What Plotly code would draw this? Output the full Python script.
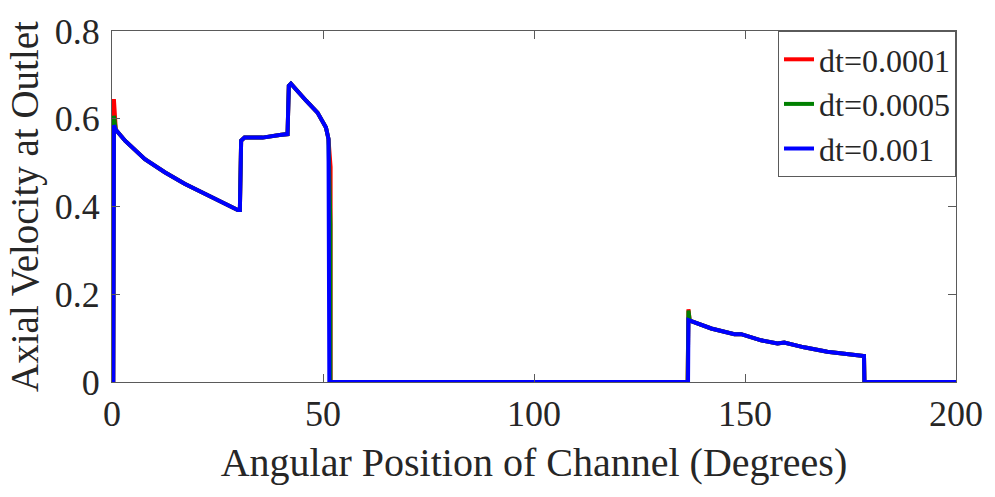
import plotly.graph_objects as go

# Axial velocity at the channel outlet versus angular position, for three time steps
x_dt0001 = [0, 0.3, 0.45, 0.9, 3.1, 7.8, 12.5, 17.2, 22.0, 26.7, 29.8, 30.3, 30.6, 31.4,
            35.7, 39.7, 41.6, 41.9, 42.4, 46.0, 48.7, 50.7, 51.3, 51.8, 51.8, 52.2,
            60, 100, 136.3, 136.4, 136.6, 136.9, 142.0, 147.5, 149.1, 153.8, 157.7,
            159.3, 164.0, 169.5, 176.6, 178.2, 178.3, 180, 200]
y_dt0001 = [0, 0.0, 0.645, 0.575, 0.550, 0.508, 0.478, 0.452, 0.429, 0.406, 0.392, 0.392, 0.550, 0.557,
            0.557, 0.563, 0.565, 0.675, 0.680, 0.641, 0.614, 0.580, 0.554, 0.49, 0.0, 0.0,
            0.0, 0.0, 0.0, 0.0, 0.166, 0.140, 0.122, 0.109, 0.109, 0.095, 0.088,
            0.090, 0.079, 0.069, 0.061, 0.059, 0.0, 0.0, 0.0]

x_dt0005 = [0, 0.3, 0.45, 0.9, 3.1, 7.8, 12.5, 17.2, 22.0, 26.7, 29.8, 30.3, 30.6, 31.4,
            35.7, 39.7, 41.6, 41.9, 42.4, 46.0, 48.7, 50.7, 51.3, 51.75, 51.75, 52.2,
            60, 100, 136.3, 136.4, 136.6, 136.9, 142.0, 147.5, 149.1, 153.8, 157.7,
            159.3, 164.0, 169.5, 176.6, 178.2, 178.3, 180, 200]
y_dt0005 = [0, 0.0, 0.607, 0.575, 0.550, 0.508, 0.478, 0.452, 0.429, 0.406, 0.392, 0.392, 0.550, 0.557,
            0.557, 0.563, 0.565, 0.675, 0.680, 0.641, 0.614, 0.580, 0.554, 0.36, 0.0, 0.0,
            0.0, 0.0, 0.0, 0.0, 0.163, 0.140, 0.122, 0.109, 0.109, 0.095, 0.088,
            0.090, 0.079, 0.069, 0.061, 0.059, 0.0, 0.0, 0.0]

x_dt001 = [0, 0.3, 0.45, 0.9, 3.1, 7.8, 12.5, 17.2, 22.0, 26.7, 29.8, 30.3, 30.6, 31.4,
           35.7, 39.7, 41.6, 41.9, 42.4, 46.0, 48.7, 50.7, 51.3, 51.5, 52.0,
           60, 100, 136.3, 136.5, 136.6, 136.9, 142.0, 147.5, 149.1, 153.8, 157.7,
           159.3, 164.0, 169.5, 176.6, 178.2, 178.3, 180, 200]
y_dt001 = [0, 0.0, 0.585, 0.575, 0.550, 0.508, 0.478, 0.452, 0.429, 0.406, 0.392, 0.392, 0.550, 0.557,
           0.557, 0.563, 0.565, 0.675, 0.680, 0.641, 0.614, 0.580, 0.554, 0.0, 0.0,
           0.0, 0.0, 0.0, 0.0, 0.141, 0.140, 0.122, 0.109, 0.109, 0.095, 0.088,
           0.090, 0.079, 0.069, 0.061, 0.059, 0.0, 0.0, 0.0]

x_ticks = [0, 50, 100, 150, 200]
y_ticks = [0, 0.2, 0.4, 0.6, 0.8]
y_tick_text = ["0", "0.2", "0.4", "0.6", "0.8"]

series = [
    ("dt=0.0001", x_dt0001, y_dt0001, "#ff0000"),
    ("dt=0.0005", x_dt0005, y_dt0005, "#008000"),
    ("dt=0.001", x_dt001, y_dt001, "#0000ff"),
]

FONT = "Liberation Serif, Times New Roman, serif"
TEXT = "#262626"
AXIS = "#5a5a5a"

fig = go.Figure()
for name, xs, ys, color in series:
    fig.add_trace(go.Scatter(x=xs, y=ys, mode="lines", name=name,
                             line=dict(color=color, width=4)))

fig.update_layout(
    width=995, height=497,
    margin=dict(l=112, r=36, t=30, b=115),
    paper_bgcolor="white", plot_bgcolor="white",
    font=dict(family=FONT, color=TEXT, size=36),
    showlegend=True,
    legend=dict(
        x=1, y=1, xanchor="right", yanchor="top",
        bgcolor="white", bordercolor=AXIS, borderwidth=1,
        font=dict(family=FONT, size=32, color=TEXT),
        itemwidth=30, tracegroupgap=0,
    ),
    xaxis=dict(
        range=[0, 200], tickvals=x_ticks, ticks="inside", ticklen=8,
        tickcolor=AXIS, showline=True, linecolor=AXIS, linewidth=1, mirror="ticks",
        showgrid=False, zeroline=False,
        tickfont=dict(family=FONT, size=36, color=TEXT),
        title=dict(text="Angular Position of Channel (Degrees)",
                   font=dict(family=FONT, size=40, color=TEXT), standoff=14),
    ),
    yaxis=dict(
        range=[0, 0.8], tickvals=y_ticks, ticktext=y_tick_text, ticks="inside", ticklen=8,
        tickcolor=AXIS, showline=True, linecolor=AXIS, linewidth=1, mirror="ticks",
        showgrid=False, zeroline=False, ticklabelstandoff=4,
        tickfont=dict(family=FONT, size=36, color=TEXT),
        title=dict(text="Axial Velocity at Outlet",
                   font=dict(family=FONT, size=39, color=TEXT), standoff=4),
    ),
)

fig.write_html("out.html")
